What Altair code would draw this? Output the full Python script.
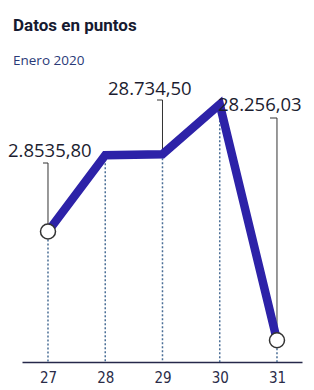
import altair as alt
import pandas as pd

# ---- data ----
days = [27, 28, 29, 30, 31]
values = [28535.80, 28732.0, 28734.50, 28863.0, 28256.03]
tick_values = [27, 28, 29, 30, 31]
circle_days = [27, 31]
label_days = [27, 29, 31]
label_texts = ["2.8535,80", "28.734,50", "28.256,03"]
title_text = "Datos en puntos"
subtitle_text = "Enero 2020"

df = pd.DataFrame({"day": days, "value": values})
circ = df[df["day"].isin(circle_days)]

LINE = "#2d22a8"
DARK = "#1c1d30"

x = alt.X("day:Q",
          scale=alt.Scale(domain=[26.546, 31.437], range=[14, 294], nice=False, zero=False),
          axis=alt.Axis(values=tick_values, format="d", ticks=False, grid=False, title=None,
                        domainColor="#26284a", domainWidth=1.5,
                        labelFont="DejaVu Sans Condensed", labelFontSize=15,
                        labelColor="#2a2c48", labelPadding=8))
y = alt.Y("value:Q", scale=alt.Scale(domain=[28200, 29111], nice=False, zero=False), axis=None)

base = alt.Chart(df)

drops = base.mark_rule(strokeDash=[2, 2], color="#4a6e96", strokeWidth=1.5).encode(
    x=x, y=y, y2=alt.value(354))

line = base.mark_line(color=LINE, strokeWidth=8.5, strokeJoin="miter", strokeCap="butt").encode(x=x, y=y)

circles = alt.Chart(circ).mark_point(shape="circle", filled=True, fill="white", stroke="#333333",
                                     strokeWidth=1.5, size=225, opacity=1).encode(x=x, y=y)

# annotation styling: (dx, dy) of label, leader top (px), hook end (px)
ann_style = {
    27: dict(dx=-40, dy=-74.5, top=155, hook=35),
    29: dict(dx=-54.5, dy=-59.3, top=92, hook=149),
    31: dict(dx=-59, dy=-229.2, top=110, hook=262),
}

layers = [drops]
label_layers = []
for d, t in zip(label_days, label_texts):
    s = ann_style[d]
    sub = alt.Chart(df[df["day"] == d].assign(label=t))
    leader = sub.mark_rule(color="#333333", strokeWidth=1).encode(x=x, y=y, y2=alt.value(s["top"]))
    hook = sub.mark_rule(color="#333333", strokeWidth=1).encode(x=x, x2=alt.value(s["hook"]),
                                                                 y=alt.value(s["top"]))
    txt = sub.mark_text(align="left", baseline="alphabetic", dx=s["dx"], dy=s["dy"],
                        font="Open Sans", fontSize=18.5, color=DARK).encode(x=x, y=y, text="label:N")
    layers += [leader, hook]
    label_layers.append(txt)

title = alt.Chart(pd.DataFrame({"t": [title_text]})).mark_text(
    align="left", baseline="alphabetic", font="Roboto", fontWeight="bold", fontSize=17,
    color="#161a30").encode(x=alt.value(5), y=alt.value(23), text="t:N")
subtitle = alt.Chart(pd.DataFrame({"t": [subtitle_text]})).mark_text(
    align="left", baseline="alphabetic", font="Open Sans", fontSize=13.5,
    color="#2a3a78").encode(x=alt.value(5), y=alt.value(57), text="t:N")

chart = alt.layer(*layers, line, circles, *label_layers, title, subtitle).properties(
    width=298, height=354,
    padding={"left": 0, "top": 0, "right": 0, "bottom": 28},
    autosize="none", background="white",
).configure_view(stroke=None)

chart.save("out.html", embed_options={"renderer": "svg", "actions": False})
